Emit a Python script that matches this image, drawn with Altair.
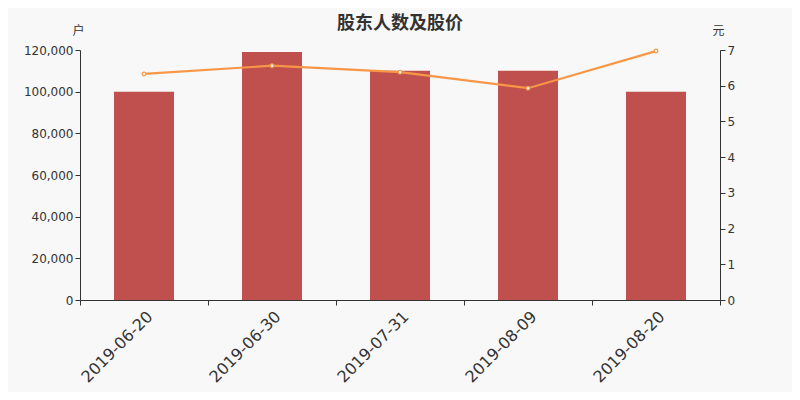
import altair as alt
import pandas as pd

dates = ["2019-06-20", "2019-06-30", "2019-07-31", "2019-08-09", "2019-08-20"]
holders = [100000, 119000, 110000, 110000, 100000]
prices = [6.33, 6.56, 6.38, 5.93, 6.97]

df = pd.DataFrame({"date": dates, "holders": holders, "price": prices})

FONT = "DejaVu Sans"
TXT = "#333333"

x = alt.X(
    "date:N", sort=None, title=None,
    scale=alt.Scale(paddingInner=0, paddingOuter=0),
    axis=alt.Axis(labelAngle=-45, labelFontSize=16, labelColor=TXT, labelFont=FONT,
                  tickBand="extent", domainColor=TXT, tickColor=TXT, tickSize=5,
                  labelPadding=3, grid=False),
)

axis_common = dict(grid=False, labelFontSize=12, labelColor=TXT, labelFont=FONT,
                   domainColor=TXT, tickColor=TXT, tickSize=5,
                   titleAngle=0, titleX=-2, titleY=-20, titleAlign="center",
                   titleBaseline="middle", titleFontSize=12, titleFontWeight="normal",
                   titleColor=TXT, titleFont="Noto Sans CJK SC")

bars = alt.Chart(df).mark_bar(size=60, color="#c0504d").encode(
    x=x,
    y=alt.Y("holders:Q", title="户",
            scale=alt.Scale(domain=[0, 120000], nice=False),
            axis=alt.Axis(values=list(range(0, 120001, 20000)), format=",.0f", **axis_common)),
)

pbase = alt.Chart(df).encode(
    x=x,
    y=alt.Y("price:Q", title="元",
            scale=alt.Scale(domain=[0, 7], nice=False),
            axis=alt.Axis(orient="right", values=list(range(0, 8)), format="d", **axis_common)),
)
line = pbase.mark_line(color="#f79646", strokeWidth=2.2)
points = pbase.mark_point(filled=True, fill="white", stroke="#f79646",
                          strokeWidth=1.2, size=14, opacity=1)

chart = alt.layer(bars, line + points).resolve_scale(y="independent").properties(
    width=640, height=250,
    background="#f8f8f8",
    autosize=alt.AutoSizeParams(type="none"),
    padding={"left": 72, "top": 42, "right": 72, "bottom": 92},
    title=alt.TitleParams("股东人数及股价", font="Noto Sans CJK SC", fontSize=18,
                          fontWeight="bold", color=TXT, anchor="middle", offset=-9),
).configure_view(stroke=None)

chart.save("out.html", embed_options={"renderer": "svg", "actions": False})
